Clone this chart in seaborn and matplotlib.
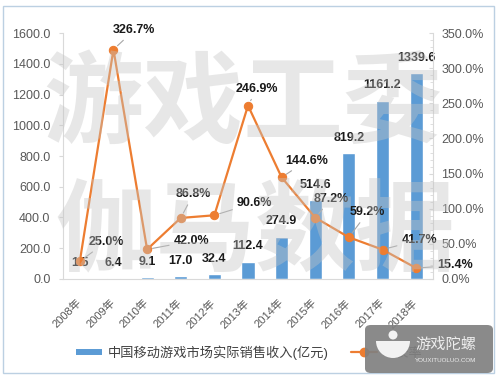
import matplotlib
matplotlib.use('Agg')
import matplotlib.pyplot as plt
import matplotlib.ticker as mticker
from matplotlib.patches import Rectangle, FancyBboxPatch, Circle, Wedge
from matplotlib.lines import Line2D
import seaborn as sns
import numpy as np

years = ['2008年', '2009年', '2010年', '2011年', '2012年', '2013年',
         '2014年', '2015年', '2016年', '2017年', '2018年']
revenue = [1.5, 6.4, 9.1, 17.0, 32.4, 112.4, 274.9, 514.6, 819.2, 1161.2, 1339.6]
growth = [25.0, 326.7, 42.0, 86.8, 90.6, 246.9, 144.6, 87.2, 59.2, 41.7, 15.4]
bar_name = '中国移动游戏市场实际销售收入(亿元)'
line_name = '增长率'

# where the percentage labels sit relative to their point (points)
growth_offsets = [(19, 14), (15, 14), (32, 6), (9, 17), (29, 9), (6.5, 12),
                  (18, 12), (11.5, 13.5), (13.5, 18), (26.5, 7), (28, 2)]

bar_color = '#5B9BD5'
line_color = '#ED7D31'
axis_grey = '#d9d9d9'
text_grey = '#595959'

sns.set_style("white")
plt.rcParams['font.family'] = ['Liberation Sans', 'Noto Sans CJK SC', 'DejaVu Sans']

fig = plt.figure(figsize=(5, 3.81), dpi=100)
ax = fig.add_axes([0.126, 0.268, 0.74, 0.645])

sns.barplot(x=years, y=revenue, ax=ax, color=bar_color, saturation=1, width=0.39)
ax.set_ylim(0, 1600)
ax.yaxis.set_major_locator(mticker.MultipleLocator(200))
ax.yaxis.set_major_formatter(mticker.StrMethodFormatter('{x:.1f}'))

for i, v in enumerate(revenue):
    ax.annotate('{:.1f}'.format(v), (i, v), xytext=(0, 11), textcoords='offset points',
                ha='center', va='center', fontsize=9, fontweight='bold', color='#1a1a1a')

ax2 = ax.twinx()
sns.lineplot(x=np.arange(len(years)), y=growth, ax=ax2, color=line_color, marker='o',
             markersize=6, markeredgecolor=line_color, linewidth=1.6)
ax2.set_ylim(0, 350)
ax2.yaxis.set_major_locator(mticker.MultipleLocator(50))
ax2.yaxis.set_minor_locator(mticker.MultipleLocator(10))
ax2.yaxis.set_major_formatter(mticker.StrMethodFormatter('{x:.1f}%'))

for i, (g, off) in enumerate(zip(growth, growth_offsets)):
    ax2.annotate('{:.1f}%'.format(g), (i, g), xytext=off, textcoords='offset points',
                 ha='center', va='center', fontsize=9, fontweight='bold', color='#1a1a1a',
                 arrowprops=dict(arrowstyle='-', color='#a6a6a6', lw=0.8,
                                 shrinkA=1, shrinkB=4))

ax.set_xlim(-0.5, len(years) - 0.5)
ax.set_xlabel('')
ax.set_ylabel('')
ax2.set_ylabel('')

for a in (ax, ax2):
    for s in a.spines.values():
        s.set_color(axis_grey)
        s.set_linewidth(0.8)
    a.spines['top'].set_visible(False)
ax.spines['right'].set_visible(False)
ax2.spines['left'].set_visible(False)
ax2.spines['bottom'].set_visible(False)

ax.tick_params(axis='y', which='major', direction='out', length=3, width=0.8,
               color=axis_grey, labelsize=9, labelcolor=text_grey, pad=6, left=True)
ax.tick_params(axis='x', length=0, labelsize=8, labelcolor=text_grey, pad=16)
ax2.tick_params(axis='y', which='major', direction='in', length=3, width=0.8,
                color=axis_grey, labelsize=9, labelcolor=text_grey, pad=6, right=True)
ax2.tick_params(axis='y', which='minor', direction='in', length=2, width=0.6,
                color=axis_grey, right=True)
for lbl in ax.get_xticklabels():
    lbl.set_rotation(45)
    lbl.set_ha('right')
    lbl.set_va('center')
    lbl.set_rotation_mode('anchor')

handles = [Line2D([], [], color=bar_color, lw=4.3, solid_capstyle='butt'),
           Line2D([], [], color=line_color, lw=1.6, marker='o', markersize=6)]
fig.legend(handles, [bar_name, line_name], loc='center', bbox_to_anchor=(0.498, 0.074),
           ncol=2, frameon=False, fontsize=9.5, handlelength=2.0, handletextpad=0.4,
           columnspacing=1.7, labelcolor='#404040')

# watermark
for txt, x, y in [('游戏工委', 0.487, 0.722), ('伽马数据', 0.51, 0.39)]:
    fig.text(x, y, txt, fontsize=72, fontweight='bold', family=['Noto Sans CJK SC'],
             color='#c4c4c4', alpha=0.4, ha='center', va='center', zorder=10)

# outer frame
fig.patches.append(Rectangle((0.006, 0.021), 0.982, 0.963, transform=fig.transFigure,
                             fill=False, edgecolor='#bcd0e2', lw=1.0, figure=fig))

# site badge in the corner
fig.patches.append(FancyBboxPatch((0.73, 0.021), 0.256, 0.126, transform=fig.transFigure,
                                  boxstyle='round,pad=0,rounding_size=0.012',
                                  facecolor='#808080', edgecolor='none', alpha=0.92,
                                  figure=fig, zorder=20))
fig.patches.append(Wedge((3.93, 0.40), 0.17, 180, 360, transform=fig.dpi_scale_trans,
                         facecolor='#f2f2f2', edgecolor='none', figure=fig, zorder=21))
fig.patches.append(Circle((3.93, 0.46), 0.045, transform=fig.dpi_scale_trans,
                          facecolor='#f2f2f2', edgecolor='none', figure=fig, zorder=21))
fig.text(0.892, 0.097, '游戏陀螺', fontsize=11, color='#eeeeee', ha='center', va='center',
         family=['Noto Sans CJK SC'], zorder=22)
fig.text(0.892, 0.053, 'YOUXITUOLUO.COM', fontsize=4.5, color='#eeeeee', ha='center',
         va='center', zorder=22)

plt.savefig('out.png', dpi=100)
